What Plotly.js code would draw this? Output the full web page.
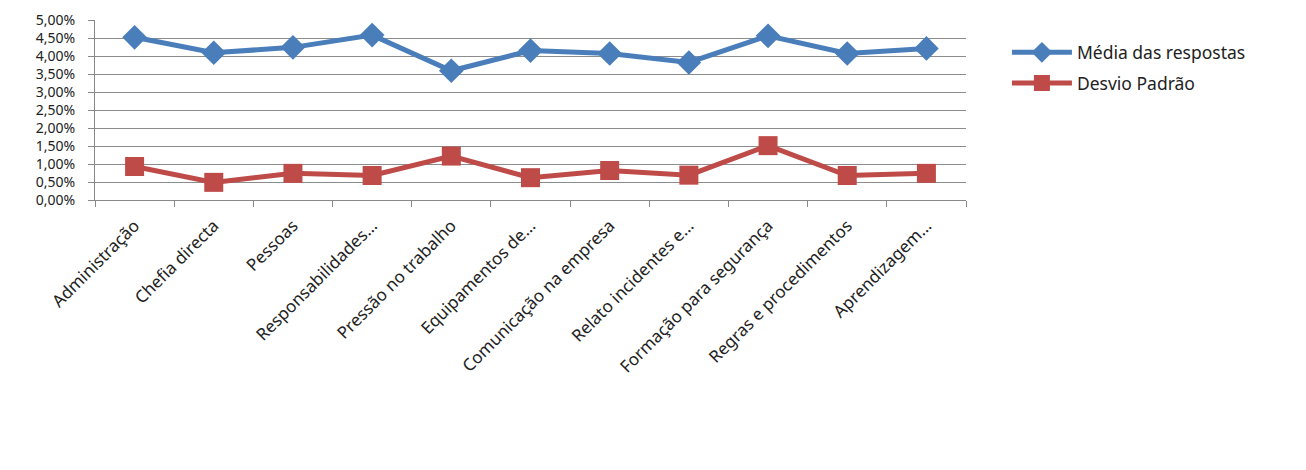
<!DOCTYPE html>
<html>
<head>
<meta charset="utf-8">
<script src="https://cdn.plot.ly/plotly-3.0.1.min.js"></script>
<style>html,body{margin:0;padding:0;background:#fff;}#chart{width:1306px;height:470px;}</style>
</head>
<body>
<div id="chart"></div>
<script>
const categories = ["Administração","Chefia directa","Pessoas","Responsabilidades…","Pressão no trabalho","Equipamentos de…","Comunicação na empresa","Relato incidentes e…","Formação para segurança","Regras e procedimentos","Aprendizagem…"];
const media = [4.52, 4.09, 4.24, 4.58, 3.59, 4.15, 4.07, 3.82, 4.56, 4.07, 4.21];
const desvio = [0.93, 0.49, 0.74, 0.68, 1.22, 0.62, 0.82, 0.69, 1.51, 0.68, 0.74];
const yTickVals = [0,0.5,1,1.5,2,2.5,3,3.5,4,4.5,5];
const yTickText = ["0,00%","0,50%","1,00%","1,50%","2,00%","2,50%","3,00%","3,50%","4,00%","4,50%","5,00%"];

const font = "Noto Sans, Open Sans, sans-serif";
const traces = [
  {x: categories, y: media, name: "Média das respostas", type: "scatter", mode: "lines+markers", legendgroup: "a",
   line: {color: "#4A7EBB", width: 5}, marker: {symbol: "diamond", size: 19, color: "#4A7EBB"}},
  {x: categories, y: desvio, name: "Desvio Padrão", type: "scatter", mode: "lines+markers", legendgroup: "b",
   line: {color: "#BE4B48", width: 5}, marker: {symbol: "square", size: 19, color: "#BE4B48"}}
];
const layout = {
  width: 1306, height: 470,
  margin: {l: 95, r: 340, t: 20, b: 270},
  paper_bgcolor: "#fff", plot_bgcolor: "#fff",
  font: {family: font, size: 16, color: "#222"},
  showlegend: true,
  legend: {x: 1.047, xanchor: "left", y: 0.92, yanchor: "top", itemwidth: 60, traceorder: "grouped",
           font: {family: font, size: 17.5, color: "#222"}, tracegroupgap: 5},
  xaxis: {type: "category", tickangle: -45, showgrid: false, showline: true, linecolor: "#888", linewidth: 1,
          ticks: "outside", tickson: "boundaries", ticklen: 6, tickcolor: "#888", ticklabelstandoff: 8,
          tickfont: {family: font, size: 17, color: "#222"}, range: [-0.5, 10.5], automargin: false},
  yaxis: {range: [0, 5], tickvals: yTickVals, ticktext: yTickText, showgrid: true, gridcolor: "#8c8c8c", gridwidth: 1,
          showline: true, linecolor: "#888", ticks: "outside", ticklen: 6, tickcolor: "#888", zeroline: false,
          ticklabelstandoff: 10,
          tickfont: {family: font, size: 14, color: "#222"}, automargin: false}
};
Plotly.newPlot("chart", traces, layout, {displayModeBar: false, staticPlot: true});
</script>
</body>
</html>
